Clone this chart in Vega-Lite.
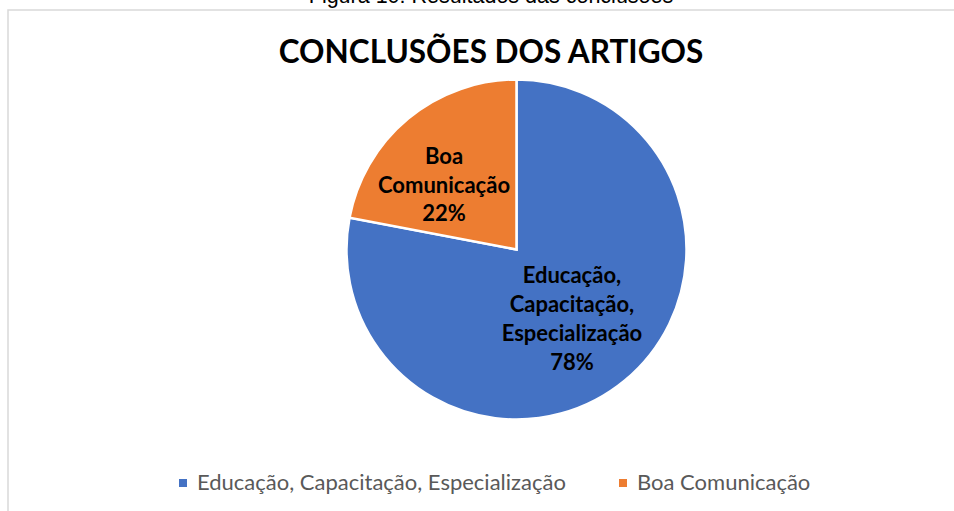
{
  "$schema": "https://vega.github.io/schema/vega-lite/v6.json",
  "autosize": "none",
  "padding": {"left": 8, "top": 10, "right": 0, "bottom": 0},
  "width": 950,
  "height": 504,
  "background": "white",
  "title": {
    "text": "Figura 10: Resultados das conclusões",
    "subtitle": "CONCLUSÕES DOS ARTIGOS",
    "anchor": "middle",
    "orient": "top",
    "offset": -60,
    "dx": 8,
    "font": "Liberation Sans",
    "fontSize": 21.5,
    "fontWeight": "normal",
    "color": "#000000",
    "subtitleFont": "Lato",
    "subtitleFontSize": 31.5,
    "subtitleFontWeight": "bold",
    "subtitleColor": "#000000",
    "subtitlePadding": 30
  },
  "config": {
    "view": {"stroke": null},
    "legend": {
      "orient": "none",
      "direction": "horizontal",
      "legendX": 164,
      "legendY": 462,
      "labelFont": "Lato",
      "labelFontSize": 22,
      "labelColor": "#595959",
      "symbolType": "square",
      "symbolSize": 64,
      "symbolStrokeWidth": 0,
      "labelOffset": 3,
      "columnPadding": 46,
      "labelLimit": 500,
      "title": null
    }
  },
  "data": {
    "values": [
      {"cat": "Educação, Capacitação, Especialização", "value": 78, "order": 1, "lines": ["Educação,", "Capacitação,", "Especialização", "78%"]},
      {"cat": "Boa Comunicação", "value": 22, "order": 2, "lines": ["Boa", "Comunicação", "22%"]}
    ]
  },
  "layer": [
    {
      "transform": [{"aggregate": [{"op": "count", "as": "n"}]}],
      "mark": {"type": "rect", "fill": null, "stroke": "#d9d9d9", "strokeWidth": 1.5},
      "encoding": {}
    },
    {
      "mark": {"type": "arc", "outerRadius": 170, "stroke": "white", "strokeWidth": 2.5, "x": {"expr": "width/2+33.5"}, "y": {"expr": "height/2-12.5"}},
      "encoding": {
        "theta": {"field": "value", "type": "quantitative", "stack": true},
        "order": {"field": "order", "type": "quantitative"},
        "color": {
          "field": "cat",
          "type": "nominal",
          "sort": ["Educação, Capacitação, Especialização", "Boa Comunicação"],
          "scale": {"domain": ["Educação, Capacitação, Especialização", "Boa Comunicação"], "range": ["#4472C4", "#ED7D31"]},
          "legend": {"title": null}
        }
      }
    },
    {
      "mark": {"type": "text", "radius": 87, "font": "Lato", "fontSize": 22, "fontWeight": "bold", "lineHeight": 29, "align": "center", "baseline": "middle", "color": "#000000", "dy": -40.5, "x": {"expr": "width/2+33.5"}, "y": {"expr": "height/2-12.5"}},
      "encoding": {
        "theta": {"field": "value", "type": "quantitative", "stack": true},
        "order": {"field": "order", "type": "quantitative"},
        "text": {"condition": {"test": "datum.order == 1", "field": "lines"}, "value": ""}
      }
    },
    {
      "mark": {"type": "text", "radius": 87, "font": "Lato", "fontSize": 22, "fontWeight": "bold", "lineHeight": 28.5, "align": "center", "baseline": "middle", "color": "#000000", "dx": -17, "dy": -25, "x": {"expr": "width/2+33.5"}, "y": {"expr": "height/2-12.5"}},
      "encoding": {
        "theta": {"field": "value", "type": "quantitative", "stack": true},
        "order": {"field": "order", "type": "quantitative"},
        "text": {"condition": {"test": "datum.order == 2", "field": "lines"}, "value": ""}
      }
    }
  ]
}
